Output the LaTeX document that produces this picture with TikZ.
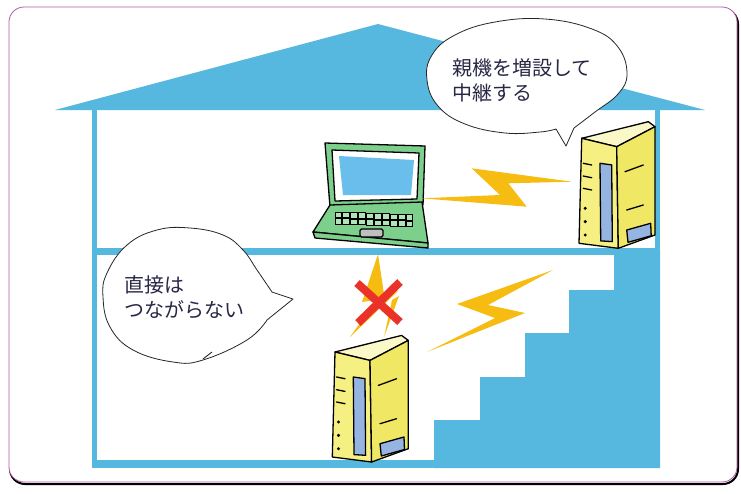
\documentclass[tikz,border=0pt]{standalone}
\usepackage{fontspec}
\newfontfamily\jpfont{Noto Sans CJK JP}

\definecolor{wall}{RGB}{86,184,222}
\definecolor{boltcol}{RGB}{246,188,18}
\definecolor{boxfront}{RGB}{246,240,130}
\definecolor{boxside}{RGB}{240,232,100}
\definecolor{boxtop}{RGB}{250,247,200}
\definecolor{slot}{RGB}{150,180,225}
\definecolor{pcgreen}{RGB}{125,208,140}
\definecolor{screen}{RGB}{105,190,235}
\definecolor{ink}{RGB}{40,40,70}
\definecolor{crossred}{RGB}{235,50,40}
\definecolor{framecol}{RGB}{175,90,165}
\definecolor{shade}{RGB}{95,100,140}

\tikzset{
  inkline/.style={draw=black, line width=1.3pt, line join=round, line cap=round},
  % access point standing on the floor, origin = top left of the front face
  router/.pic={
    \filldraw[inkline, fill=boxtop] (0,0) -- (66.6,-16.6) -- (73.3,-11.6) -- (35,8.4) -- cycle;
    \filldraw[inkline, fill=boxfront] (0,0) -- (35,8.4) -- (36.6,110) -- (-2.7,105) -- cycle;
    \filldraw[inkline, fill=boxside] (35,8.4) -- (73.3,-11.6) -- (73.3,96.7) -- (36.6,110) -- cycle;
    \filldraw[inkline, fill=slot] (18.3,25) -- (30,26.6) -- (30.6,103.3) -- (19,102.6) -- cycle;
    \filldraw[inkline, fill=slot] (45,91.7) -- (69,85) -- (69.5,97.5) -- (46.3,104) -- cycle;
    \foreach \y in {25,37.7,50} \draw[inkline] (1.5,\y) -- (10,\y+1.7);
    \foreach \y in {70,83.3,96.7} \fill (3.5,\y) circle (1.7);
    \draw[inkline] (43.3,33.4) -- (61.6,26.7);
    \draw[inkline] (45,71.7) -- (61.6,66.7);
  }
}

\begin{document}
\begin{tikzpicture}[x=1pt,y=-1pt]
  \tikzstyle{bubble}=[draw=black!85, line width=0.8pt, fill=white, line join=round]
  \tikzstyle{says}=[font={\jpfont\fontsize{20pt}{25pt}\selectfont}, text=ink, align=left, inner sep=0pt, anchor=north west]
  \tikzstyle{bolt}=[fill=boltcol]
  \useasboundingbox (0,0) rectangle (741,493);

  % card frame
  \draw[shade, line width=2pt, rounded corners=15] (10,9) rectangle (738,484);
  \draw[framecol, line width=0.8pt, fill=white, rounded corners=15] (9,7) rectangle (737,482);

  % house
  \fill[wall] (55,110) -- (378,24) -- (705,110) -- cycle;
  \fill[wall] (92,110) rectangle (97,468);
  \fill[wall] (655,110) rectangle (660,255);
  \fill[wall] (92,248) rectangle (660,255);
  \fill[wall] (92,460) rectangle (434,468);
  \fill[wall] (614,250) -- (660,250) -- (660,468) -- (434,468) -- (434,420) -- (480,420)
    -- (480,377) -- (525,377) -- (525,333) -- (569,333) -- (569,290) -- (614,290) -- cycle;

  % laptop
  \filldraw[inkline, fill=pcgreen] (325,143) -- (425,146) -- (423,205) -- (330,207) -- cycle;
  \filldraw[inkline, fill=white] (332,150) -- (419,153) -- (417,199) -- (335,201) -- cycle;
  \fill[screen] (339,156) -- (414,160) -- (411,195) -- (343,195) -- cycle;
  \filldraw[inkline, fill=pcgreen] (330,205) -- (422,202) -- (428,243) -- (313,232) -- cycle;
  \filldraw[inkline, fill=pcgreen] (313,232) -- (428,243) -- (428,248) -- (315,238) -- cycle;
  \foreach \i in {0,...,9}
    \foreach \j in {0,1}
      \filldraw[draw=black, line width=0.9pt, fill=pcgreen!60!white]
        ({335+7.9*\i}, {212+0.3*\i+6.5*\j}) rectangle +(6.8,5.5);
  \filldraw[inkline, fill=black!25, rounded corners=1.5] (360,229) rectangle (383,237);

  % access points
  \pic at (581.7,138.3) {router};
  \pic at (335,352) {router};

  % radio links
  \fill[bolt] (471.7,168.3) -- (571.7,181.7) -- (508.3,183.3) -- (526.7,206.7)
    -- (421.7,198.3) -- (500,195) -- cycle;
  \fill[bolt] (553,270) -- (457,304) -- (495,318) -- (427,352) -- (525,313) -- (488,305) -- cycle;
  \fill[bolt] (378,254) -- (362,302) -- (376,300) -- (350,337) -- (398,291) -- (384,294) -- cycle;
  \fill[bolt] (392,300) -- (399,296) -- (384,337) -- cycle;
  \draw[crossred, line width=8pt] (357,283) -- (400,322);
  \draw[crossred, line width=8pt] (400,282) -- (358,323);

  % speech bubbles
  \draw[bubble] (566,146) -- plot[smooth, tension=0.7] coordinates {(574,128) (595,112) (618,94)
    (627,74) (618,47) (592,29) (545,19) (495,22) (455,35) (432,55) (427,80) (438,106)
    (465,124) (505,133) (540,132) (556,129)} -- cycle;
  \node[says] (relay) at (452,58) {親機を増設して\\中継する};

  \draw[bubble] (293,299) -- plot[smooth, tension=0.7] coordinates {(272,292) (257,270) (243,250)
    (223,235) (190,228) (157,230) (127,245) (107,273) (103,297) (110,327) (133,350)
    (173,362) (203,360) (247,340) (267,320)} -- cycle;
  \draw[black!85, line width=0.9pt] (203,359) -- (212,352);
  \node[says] (direct) at (124,275) {直接は\\つながらない};
\end{tikzpicture}
\end{document}
